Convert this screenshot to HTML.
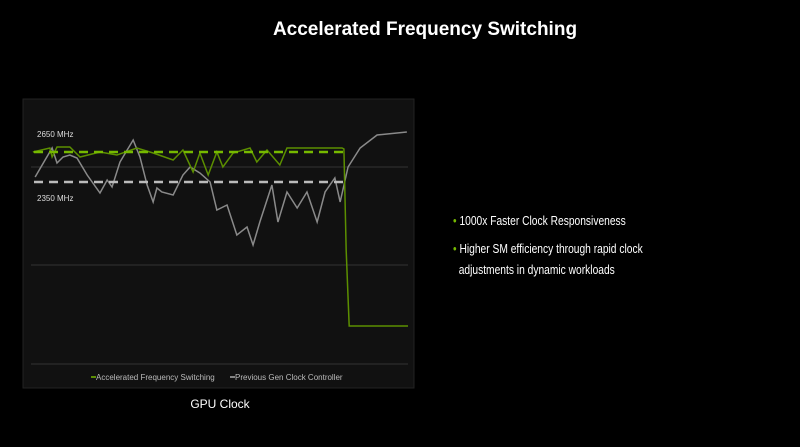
<!DOCTYPE html>
<html><head><meta charset="utf-8"><style>
body{margin:0;width:800px;height:447px;background:#000;overflow:hidden;font-family:"Liberation Sans",sans-serif;color:#fff;position:relative}
.t{position:absolute}
</style></head><body>
<div class="t" style="left:0;width:850px;top:19px;text-align:center;font-size:19px;font-weight:bold">Accelerated Frequency Switching</div>
<svg class="t" style="left:0;top:0" width="800" height="447">
<rect x="23" y="99" width="391" height="289" fill="#111" stroke="#222"/>
<g id="grid"></g>
<g id="marks"></g>
<text x="37" y="137" font-size="8" fill="#ddd">2650 MHz</text>
<text x="37" y="201" font-size="8" fill="#ddd">2350 MHz</text>
<g font-size="8" fill="#bbb">
<line x1="91" y1="377" x2="96" y2="377" stroke="#76b900" stroke-width="1.5"/>
<text x="96" y="380">Accelerated Frequency Switching</text>
<line x1="230" y1="377" x2="235" y2="377" stroke="#aaa" stroke-width="1.5"/>
<text x="235" y="380">Previous Gen Clock Controller</text>
</g>
<text x="220" y="408" font-size="12" fill="#fff" text-anchor="middle">GPU Clock</text>
</svg>
<div class="t" style="left:453px;top:214px;font-size:12.5px;transform:scaleX(0.82);transform-origin:0 0;white-space:nowrap"><span style="color:#76b900">•</span> 1000x Faster Clock Responsiveness</div>
<div class="t" style="left:453px;top:239px;font-size:12.5px;line-height:21px;width:340px;transform:scaleX(0.82);transform-origin:0 0;white-space:nowrap"><span style="color:#76b900">•</span> Higher SM efficiency through rapid clock<br>&nbsp;&nbsp;adjustments in dynamic workloads</div>
<script>
const grayT=[1.1,5.6,6.9,8.5,10.3,12.2,14.9,18.3,20.2,21.5,23.6,27.1,28.9,30.8,32.4,33.4,34.7,37.7,40.3,42.2,44.8,47.5,49.3,52,54.6,57.3,58.9,60.7,63.9,65.5,67.9,70.6,73.2,75.9,78,80.6,82,84.1,87.3,91.8,99.7];
const grayV=[2400,2690,2540,2600,2620,2590,2420,2240,2370,2300,2550,2770,2600,2320,2150,2290,2250,2220,2420,2500,2440,2350,2070,2120,1820,1900,1720,1950,2320,1950,2250,2090,2250,1950,2250,2390,2150,2500,2690,2820,2850];
const greenT=[0.5,5,5.6,6.9,10.3,13,18.3,22.8,28.1,32.4,37.7,40.3,43,44.8,47,49.3,50.9,53.6,58.1,59.9,62.6,66,67.9,76.7,82.5,83,83.6,84.4,100];
const greenV=[2650,2690,2600,2700,2700,2600,2650,2620,2690,2640,2570,2670,2450,2640,2420,2650,2500,2640,2690,2550,2670,2520,2690,2690,2690,2680,1670,910,910];
const refLines=[2650,2350];
const gridY=[167,265,364];
const x=t=>31+t*3.77, y=v=>152+(2650-v)/10;
const NS="http://www.w3.org/2000/svg";
const g=document.getElementById('grid'), m=document.getElementById('marks');
gridY.forEach(gy=>{const l=document.createElementNS(NS,'line');


l.setAttribute('x1',31);l.setAttribute('x2',408);l.setAttribute('y1',gy);l.setAttribute('y2',gy);l.setAttribute('stroke','#333');g.appendChild(l);});
function line(T,V,c,name){const p=document.createElementNS(NS,'polyline');


p.setAttribute('points',T.map((t,i)=>x(t)+','+y(V[i])).join(' '));p.setAttribute('fill','none');p.setAttribute('stroke',c);p.setAttribute('stroke-width','1.5');m.appendChild(p);}
line(grayT,grayV,'#8a8a8a','previous-gen-line');
line(greenT,greenV,'#5c8f00','afs-line');
[['#76b900','afs-reference-line'],['#bbb','previous-reference-line']].forEach((s,i)=>{const l=document.createElementNS(NS,'line');


l.setAttribute('x1',34);l.setAttribute('x2',348);l.setAttribute('y1',y(refLines[i]));l.setAttribute('y2',y(refLines[i]));l.setAttribute('stroke',s[0]);l.setAttribute('stroke-width','2.5');l.setAttribute('stroke-dasharray','9 6');m.appendChild(l);});
</script>
</body></html>
